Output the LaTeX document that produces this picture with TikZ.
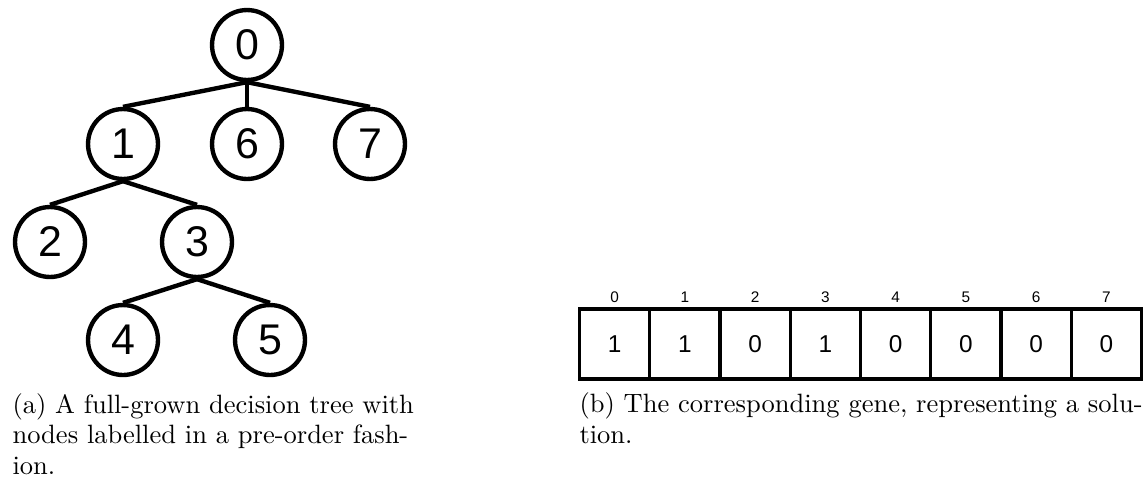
\documentclass[tikz,border=0pt]{standalone}
\usepackage{fontspec}
\newfontfamily\sansdig{Liberation Sans}
\begin{document}
\begin{tikzpicture}[x=0.3774pt,y=-0.3774pt,
  tnode/.style={circle,draw,line width=1.65pt,minimum size=26.4pt,inner sep=0pt,font=\sansdig\fontsize{16.2}{18}\selectfont},
  tedge/.style={line width=1.65pt},
  cell/.style={draw,line width=1.3pt,minimum width=26.51pt,minimum height=26.4pt,inner sep=0pt,font=\sansdig\fontsize{9.2}{10}\selectfont},
  idx/.style={inner sep=0pt,font=\sansdig\fontsize{5.8}{6}\selectfont},
  captext/.style={inner sep=0pt,align=left,anchor=base west,font=\fontsize{10}{11.5}\selectfont}]
\useasboundingbox (0,0) rectangle (1143,489);
% tree
\node[tnode] (n0) at (247,45) {0};
\node[tnode] (n1) at (123,144) {1};
\node[tnode] (n6) at (247,144) {6};
\node[tnode] (n7) at (370,144) {7};
\node[tnode] (n2) at (50,242) {2};
\node[tnode] (n3) at (197,242) {3};
\node[tnode] (n4) at (123,340) {4};
\node[tnode] (n5) at (270,340) {5};
\draw[tedge] (n0.south) -- (n1.north);
\draw[tedge] (n0.south) -- (n6.north);
\draw[tedge] (n0.south) -- (n7.north);
\draw[tedge] (n1.south) -- (n2.north);
\draw[tedge] (n1.south) -- (n3.north);
\draw[tedge] (n3.south) -- (n4.north);
\draw[tedge] (n3.south) -- (n5.north);
% gene
\foreach \k/\v in {0/1,1/1,2/0,3/1,4/0,5/0,6/0,7/0}{
  \node[cell] (c\k) at ({579.5+70.25*(\k+0.5)},344) {\v};
  \node[idx] (i\k) at ({579.5+70.25*(\k+0.5)},297) {\k};
}
% captions (base anchor = baseline of last line)
\node[captext] (capa) at (12,474) {(a) A full-grown decision tree with\\nodes labelled in a pre-order fash-\\ion.};
\node[captext] (capb) at (579,443) {(b) The corresponding gene, representing a solu-\\tion.};
\end{tikzpicture}
\end{document}
